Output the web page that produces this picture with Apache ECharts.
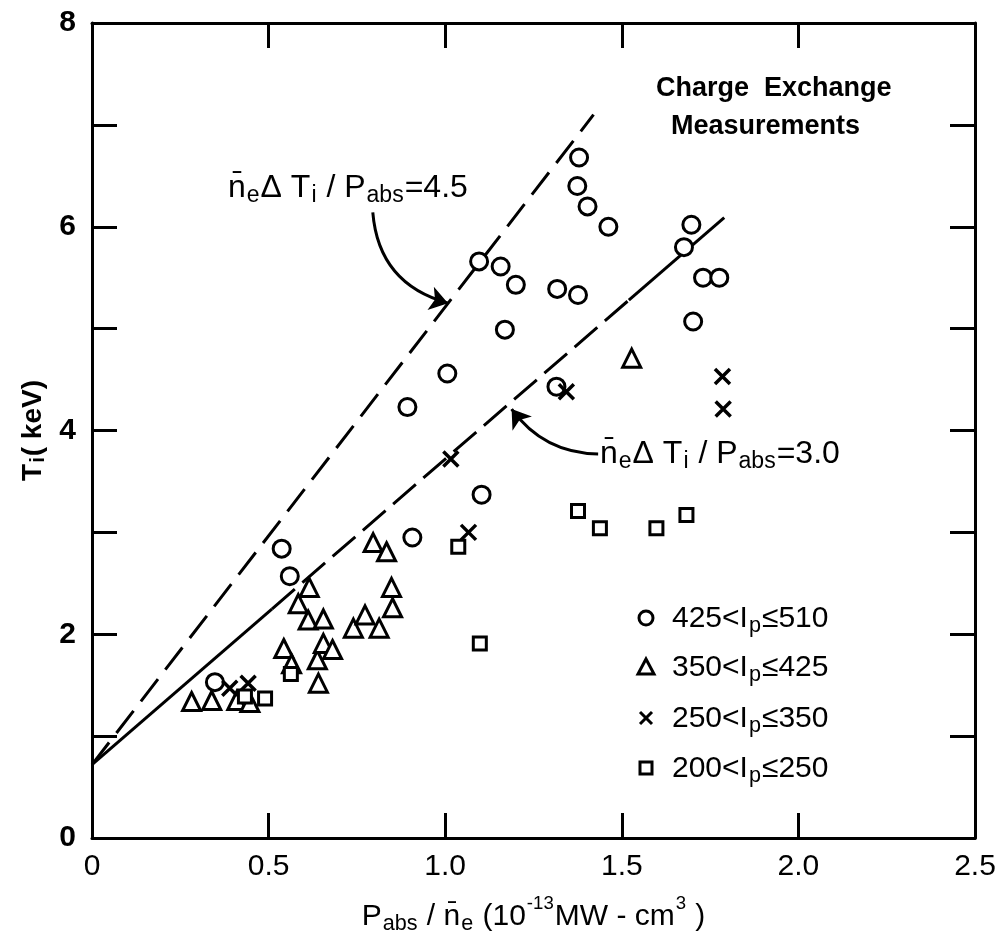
<!DOCTYPE html>
<html>
<head>
<meta charset="utf-8">
<script src="https://cdn.jsdelivr.net/npm/echarts@6/dist/echarts.min.js"></script>
<style>
  html, body { margin: 0; padding: 0; background: #fff; }
  #chart { width: 1003px; height: 942px; }
</style>
</head>
<body>
<div id="chart"></div>
<script>
// tick labels
const xTickLabels = ['0', '0.5', '1.0', '1.5', '2.0', '2.5']
const yTickLabels = ['0', '', '2', '', '4', '', '6', '', '8']

// measured points, [P_abs/n_e, T_i]
const circles = [ // 425 < Ip <= 510
  [0.348, 1.53], [0.537, 2.84], [0.56, 2.57], [0.893, 4.23], [0.907, 2.95],
  [1.006, 4.56], [1.096, 5.66], [1.103, 3.37], [1.157, 5.61], [1.169, 4.99],
  [1.2, 5.43], [1.315, 4.43], [1.317, 5.39], [1.376, 5.33], [1.374, 6.40],
  [1.379, 6.68], [1.403, 6.20], [1.462, 6.0], [1.676, 5.80], [1.697, 6.02],
  [1.702, 5.07], [1.73, 5.50], [1.776, 5.50]
]
const triangles = [ // 350 < Ip <= 425
  [0.282, 1.34], [0.339, 1.35], [0.41, 1.35], [0.447, 1.33], [0.543, 1.86],
  [0.565, 1.71], [0.584, 2.30], [0.612, 2.14], [0.615, 2.46], [0.638, 1.75],
  [0.641, 1.52], [0.655, 2.15], [0.655, 1.91], [0.681, 1.85], [0.740, 2.06],
  [0.773, 2.19], [0.796, 2.90], [0.813, 2.06], [0.834, 2.81], [0.848, 2.46],
  [0.851, 2.26], [1.528, 4.71]
]
const crosses = [ // 250 < Ip <= 350
  [0.39, 1.47], [0.442, 1.52], [1.016, 3.72], [1.066, 3.0], [1.343, 4.38],
  [1.785, 4.53], [1.787, 4.21]
]
const squares = [ // 200 < Ip <= 250
  [0.433, 1.39], [0.49, 1.37], [0.563, 1.61], [1.037, 2.86], [1.098, 1.91],
  [1.376, 3.21], [1.438, 3.04], [1.598, 3.04], [1.683, 3.17]
]

// n_e dT_i / P_abs lines
const line45 = [[0, 0.72], [1.42, 7.1]]
const line30SolidA = [[0, 0.72], [0.51, 2.25]]
const line30Dashed = [[0.51, 2.25], [1.52, 5.28]]
const line30SolidB = [[1.52, 5.28], [1.79, 6.09]]

// arrows from the labels to the lines
const arrow45 = [[0.795, 6.14], [1.008, 5.25]]
const arrow30 = [[1.433, 3.77], [1.188, 4.21]]

const legendLow = ['425', '350', '250', '200']
const legendHigh = ['510', '425', '350', '250']

const FONT = 'Liberation Sans'
const BLACK = '#000'
const CROSS = 'path://M0,0L10,10M10,0L0,10'

const chart = echarts.init(document.getElementById('chart'))

const hollow = {
  color: '#fff',
  borderColor: BLACK,
  borderWidth: 3,
  opacity: 1
}

function scatter (data, symbol, size, bw) {
  return {
    type: 'scatter',
    data: data,
    symbol: symbol,
    symbolSize: size,
    itemStyle: Object.assign({}, hollow, bw ? { borderWidth: bw } : {}),
    z: 5
  }
}

function seg (data, type) {
  return {
    type: 'line',
    data: data,
    symbol: 'none',
    silent: true,
    lineStyle: { color: BLACK, width: 3, type: type },
    z: 3
  }
}

// rich text styles for sub / superscripts
function rich (size, weight) {
  const w = weight || 'normal'
  return {
    m: { fontSize: size, fontFamily: FONT, fontWeight: w, color: BLACK, verticalAlign: 'top', lineHeight: size, padding: [8, 0, 0, 0] },
    s: { fontSize: size * 0.72, fontFamily: FONT, fontWeight: w, color: BLACK, verticalAlign: 'top', lineHeight: size * 0.72, padding: [size * 0.62, 1, 0, 1] },
    u: { fontSize: size * 0.62, fontFamily: FONT, fontWeight: w, color: BLACK, verticalAlign: 'top', lineHeight: size * 0.62, padding: [0, 1, 0, 1] }
  }
}

const axisCommon = {
  axisLine: { show: true, onZero: false, lineStyle: { color: BLACK, width: 3 } },
  axisTick: { show: true, inside: true, length: 25, lineStyle: { color: BLACK, width: 3 } },
  splitLine: { show: false }
}

const labelText = v => '{m|n\u0304}{s|e}{m|\u0394 T}{s|i}{m| / P}{s|abs}{m|=' + v + '}'

const option = {
  backgroundColor: '#fff',
  animation: false,
  grid: { left: 92, top: 23, right: 28, bottom: 104 },
  xAxis: [
    Object.assign({
      type: 'value', min: 0, max: 2.5, interval: 0.5, position: 'bottom',
      axisLabel: {
        margin: 14, fontSize: 30, fontFamily: FONT, color: BLACK,
        formatter: v => xTickLabels[Math.round(v / 0.5)]
      },
      name: '{m|P}{s|abs}{m| / n\u0304}{s|e}{m| (10}{u|-13}{m|MW - cm}{u|3}{m| )}',
      nameLocation: 'middle',
      nameGap: 56,
      nameTextStyle: { rich: rich(30) }
    }, axisCommon),
    Object.assign({
      type: 'value', min: 0, max: 2.5, interval: 0.5, position: 'top',
      axisLabel: { show: false }
    }, axisCommon)
  ],
  yAxis: [
    Object.assign({
      type: 'value', min: 0, max: 8, interval: 1, position: 'left',
      axisLabel: {
        margin: 16, fontSize: 30, fontWeight: 'bold', fontFamily: FONT, color: BLACK,
        formatter: v => yTickLabels[Math.round(v)]
      },
      name: '{m|T}{s|i}{m|( keV)}',
      nameLocation: 'middle',
      nameRotate: 90,
      nameGap: 52,
      nameTextStyle: { rich: rich(28, 'bold') }
    }, axisCommon),
    Object.assign({
      type: 'value', min: 0, max: 8, interval: 1, position: 'right',
      axisLabel: { show: false }
    }, axisCommon)
  ],
  series: [
    seg(line45, [28, 12]),
    seg(line30SolidA, 'solid'),
    seg(line30Dashed, [30, 10]),
    seg(line30SolidB, 'solid'),
    {
      type: 'lines',
      coordinateSystem: 'cartesian2d',
      silent: true,
      symbol: ['none', 'arrow'],
      symbolSize: [0, 18],
      lineStyle: { color: BLACK, width: 3, opacity: 1 },
      data: [
        { coords: arrow45, lineStyle: { curveness: -0.35 } },
        { coords: arrow30, lineStyle: { curveness: 0.25 } }
      ],
      z: 4
    },
    scatter(circles, 'circle', 17),
    scatter(triangles, 'triangle', 18),
    scatter(crosses, CROSS, 15, 3.5),
    scatter(squares, 'rect', 13)
  ],
  graphic: [
    {
      type: 'text', left: 656, top: 70,
      style: { text: 'Charge  Exchange\n  Measurements', font: 'bold 27px ' + FONT, fill: BLACK, lineHeight: 38 }
    },
    {
      type: 'text', left: 228, top: 164,
      style: { text: labelText('4.5'), rich: rich(32) }
    },
    {
      type: 'text', left: 600, top: 430,
      style: { text: labelText('3.0'), rich: rich(32) }
    }
  ]
}

// legend rows (text + marker glyph)
const rowY = [618, 667, 718, 768]
rowY.forEach((y, i) => {
  option.graphic.push({
    type: 'text', x: 672, y: y - 22,
    style: {
      text: '{m|' + legendLow[i] + '<I}{s|p}{m|\u2264' + legendHigh[i] + '}',
      rich: rich(30)
    }
  })
})
const mk = { fill: '#fff', stroke: BLACK, lineWidth: 3 }
option.graphic.push(
  { type: 'circle', shape: { cx: 646, cy: rowY[0], r: 7 }, style: mk },
  { type: 'polygon', shape: { points: [[646, rowY[1] - 8], [654, rowY[1] + 7], [638, rowY[1] + 7]] }, style: mk },
  { type: 'line', shape: { x1: 640, y1: rowY[2] - 6, x2: 652, y2: rowY[2] + 6 }, style: { stroke: BLACK, lineWidth: 3 } },
  { type: 'line', shape: { x1: 652, y1: rowY[2] - 6, x2: 640, y2: rowY[2] + 6 }, style: { stroke: BLACK, lineWidth: 3 } },
  { type: 'rect', shape: { x: 640, y: rowY[3] - 6, width: 12, height: 12 }, style: mk }
)

chart.setOption(option)
</script>
</body>
</html>
